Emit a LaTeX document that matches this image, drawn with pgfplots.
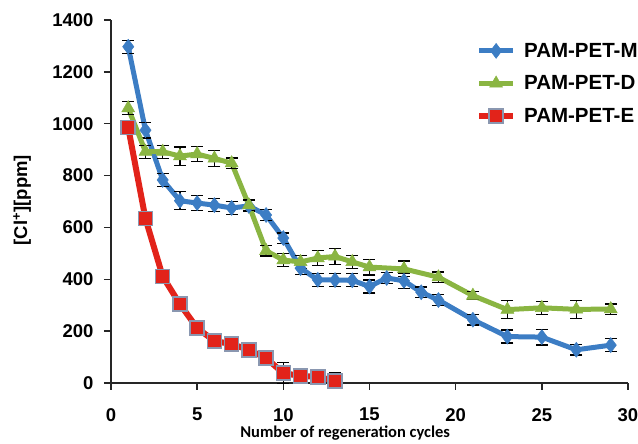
\documentclass[border=0pt]{standalone}
\usepackage{fontspec}
\setmainfont{Liberation Sans}
\newfontfamily\carlito{Carlito}
\usepackage{pgfplots}
\pgfplotsset{compat=1.18}
\definecolor{cM}{HTML}{3C7DC4}
\definecolor{cD}{HTML}{8AB542}
\definecolor{cE}{HTML}{E2231A}
\definecolor{cEb}{HTML}{8A97B0}
\begin{document}
\begin{tikzpicture}
\begin{axis}[
  scale only axis, width=517pt, height=363pt,
  xmin=0, xmax=30, ymin=0, ymax=1400,
  xtick={0,5,...,30}, ytick={0,200,...,1400},
  axis x line=bottom, axis y line=left,
  axis line style={-, line width=1.4pt, black!85},
  tick style={line width=1.4pt, black!85},
  tick align=outside, major tick length=7pt,
  clip=false,
  /pgf/number format/assume math mode=true,
  /pgf/number format/1000 sep={},
  ticklabel style={font=\fontsize{18.5}{20}\selectfont\bfseries},
  xticklabel style={yshift=-17pt, inner ysep=1pt},
  yticklabel style={xshift=-7pt},
  ylabel={[Cl\textsuperscript{+}][ppm]},
  ylabel style={at={(axis description cs:-0.172,0.504)}, anchor=center, font=\fontsize{18.5}{20}\selectfont\bfseries},
  xlabel={Number of regeneration cycles},
  xlabel style={at={(axis description cs:0.453,0)}, anchor=north, yshift=-43pt, inner ysep=0pt, font=\fontsize{16.5}{18}\selectfont\carlito\bfseries},
  legend style={at={(axis description cs:0.70,0.948)}, anchor=north west, draw=none, fill=none,
    font=\fontsize{20.5}{23}\selectfont\bfseries, row sep=13pt, nodes={inner xsep=8pt}},
  legend cell align=left,
  legend image code/.code={\draw[mark repeat=2,mark phase=2,#1] plot coordinates {(0pt,0pt) (17pt,0pt) (34pt,0pt)};},
  error bars/y dir=both, error bars/y explicit,
  error bars/error mark options={black, line width=1.3pt, mark size=6pt, rotate=90},
  error bars/error bar style={black, line width=1.3pt},
]
\addplot[cM, line width=5pt, mark=diamond*, mark size=7.5pt, mark options={fill=cM, draw=cM, line width=0.5pt}]
  table[x=x, y=y, y error=e] {
x y e
1 1297 25
2 975 30
3 783 25
4 703 35
5 694 30
6 686 25
7 675 25
8 683 20
9 648 20
10 559 20
11 443 25
12 398 25
13 397 25
14 396 25
15 372 25
16 405 20
17 394 30
18 350 20
19 320 20
21 244 20
23 179 25
25 177 30
27 128 20
29 146 25
};
\addlegendentry{PAM-PET-M}
\addplot[cD, line width=5pt, mark=triangle*, mark size=7.5pt, mark options={fill=cD, draw=cD, line width=0.5pt}]
  table[x=x, y=y, y error=e] {
x y e
1 1060 25
2 892 25
3 892 25
4 875 35
5 883 30
6 866 30
7 848 20
8 686 20
9 510 20
10 474 25
11 467 25
12 482 30
13 488 30
14 467 25
15 447 30
17 440 30
19 408 20
21 337 15
23 283 35
25 290 25
27 284 35
29 285 20
};
\addlegendentry{PAM-PET-D}
\addplot[cE, line width=6pt, mark=square*, mark size=7pt, mark options={fill=cE, draw=cEb, line width=1.6pt}]
  table[x=x, y=y, y error=e] {
x y e
1 985 15
2 634 15
3 411 10
4 304 10
5 212 30
6 162 15
7 150 10
8 128 10
9 96 10
10 38 40
11 27 25
12 24 10
13 8 30
};
\addlegendentry{PAM-PET-E}
\end{axis}
\pgfresetboundingbox
\useasboundingbox (-111pt,-61pt) rectangle (527pt,383pt);
\end{tikzpicture}
\end{document}
